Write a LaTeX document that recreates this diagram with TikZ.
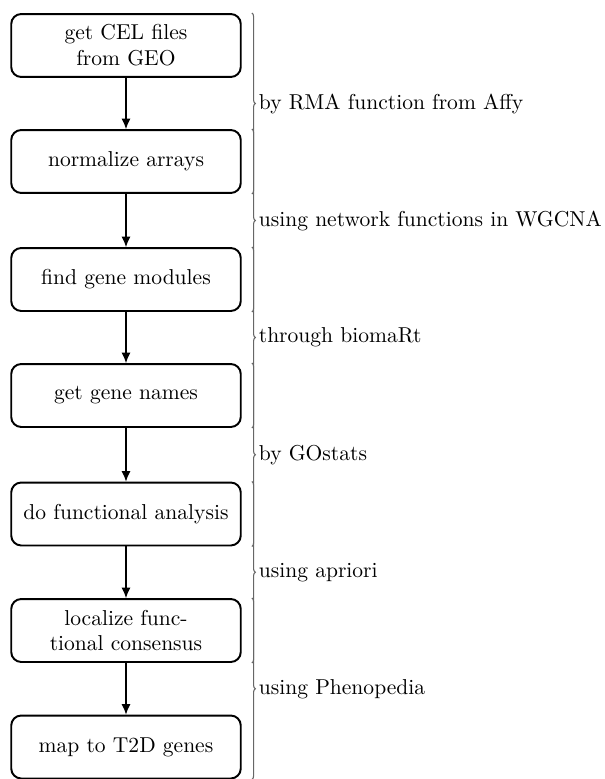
\documentclass[tikz,border=0pt]{standalone}
\usetikzlibrary{decorations.pathreplacing,arrows.meta}

\tikzset{
  stepbox/.style={draw, line width=0.9pt, rounded corners=4.6pt,
    minimum width=106.5pt, minimum height=29.2pt, align=center,
    inner sep=2pt, font=\normalsize},
  flow/.style={-{Latex[length=4.8pt,width=4.2pt]}, line width=0.6pt},
  brc/.style={decorate, decoration={brace, amplitude=1.6pt},
    draw=black!60, line width=0.5pt},
  brclabel/.style={anchor=west, inner sep=0pt, xshift=3.0pt}
}

\begin{document}
\begin{tikzpicture}[x=0.4640pt, y=-0.4640pt]
  \useasboundingbox (0,0) rectangle (605,779);

  % process steps
  \node[stepbox] (b1) at (126, 45.5) {get CEL files\\from GEO};
  \node[stepbox] (b2) at (126,161.5) {normalize arrays};
  \node[stepbox] (b3) at (126,279.5) {find gene modules};
  \node[stepbox] (b4) at (126,395.5) {get gene names};
  \node[stepbox] (b5) at (126,514.0) {do functional analysis};
  \node[stepbox] (b6) at (126,630.5) {localize func-\\tional consensus};
  \node[stepbox] (b7) at (126,747.0) {map to T2D genes};

  % arrows between steps
  \foreach \a/\b in {b1/b2,b2/b3,b3/b4,b4/b5,b5/b6,b6/b7}
    \draw[flow] (\a.south) -- (\b.north);

  % braces spanning two consecutive steps, with the tool used
  \draw[brc] ([xshift=4.7pt]b1.north east) -- node[brclabel]{by RMA function from Affy} ([xshift=4.7pt]b2.south east);
  \draw[brc] ([xshift=4.7pt]b2.north east) -- node[brclabel]{using network functions in WGCNA} ([xshift=4.7pt]b3.south east);
  \draw[brc] ([xshift=4.7pt]b3.north east) -- node[brclabel]{through biomaRt} ([xshift=4.7pt]b4.south east);
  \draw[brc] ([xshift=4.7pt]b4.north east) -- node[brclabel]{by GOstats} ([xshift=4.7pt]b5.south east);
  \draw[brc] ([xshift=4.7pt]b5.north east) -- node[brclabel]{using apriori} ([xshift=4.7pt]b6.south east);
  \draw[brc] ([xshift=4.7pt]b6.north east) -- node[brclabel]{using Phenopedia} ([xshift=4.7pt]b7.south east);
\end{tikzpicture}
\end{document}
